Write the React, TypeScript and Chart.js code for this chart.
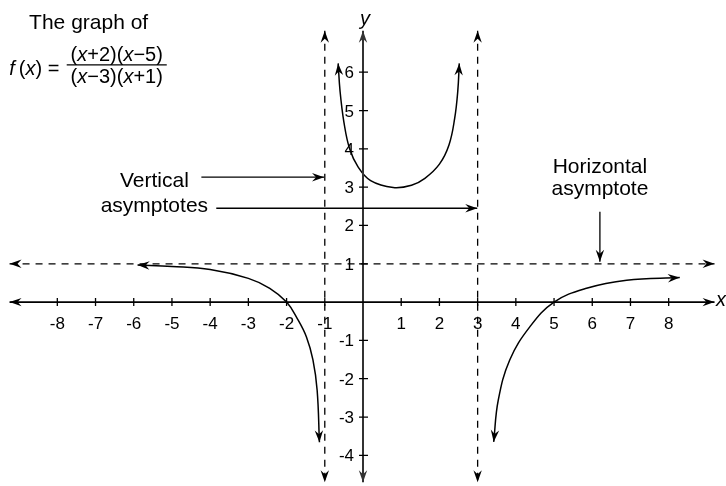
import { useEffect, useRef } from "react";
import { Chart, registerables } from "chart.js";

Chart.register(...registerables);

// ---- data ----
const X_TICKS = [-8, -7, -6, -5, -4, -3, -2, -1, 1, 2, 3, 4, 5, 6, 7, 8];
const X_TICK_LABELS = ["-8", "-7", "-6", "-5", "-4", "-3", "-2", "-1", "1", "2", "3", "4", "5", "6", "7", "8"];
const Y_TICKS = [-4, -3, -2, -1, 1, 2, 3, 4, 5, 6];
const Y_TICK_LABELS = ["-4", "-3", "-2", "-1", "1", "2", "3", "4", "5", "6"];

const X_AXIS_EXTENT = [-9.25, 9.2];
const Y_AXIS_EXTENT = [-4.7, 7.08];
const VERTICAL_ASYMPTOTES = [-1, 3];
const HORIZONTAL_ASYMPTOTE = 1;

const LEFT_X = [-5.9, -5, -4, -3, -2.44, -2, -1.72, -1.48, -1.31, -1.2, -1.14];
const LEFT_Y = [0.97, 0.93, 0.85, 0.62, 0.36, 0, -0.43, -0.91, -1.51, -2.3, -3.66];

const MID_X = [-0.65, -0.6, -0.5, -0.35, -0.13, 0.2, 0.79, 1.27, 1.62, 2.0, 2.25, 2.4, 2.48, 2.52];
const MID_Y = [6.23, 5.5, 4.7, 4.0, 3.53, 3.17, 2.99, 3.05, 3.23, 3.6, 4.1, 4.8, 5.5, 6.23];

const RIGHT_X = [3.42, 3.54, 3.84, 4.37, 5, 5.85, 6.9, 8.29];
const RIGHT_Y = [-3.65, -2.56, -1.51, -0.64, 0, 0.36, 0.57, 0.64];

const FONT = '"Liberation Sans", Arial, Helvetica, sans-serif';

type Run = [string, boolean];

const toPts = (xs: number[], ys: number[]) => xs.map((x, i) => ({ x, y: ys[i] }));

function drawHead(ctx: CanvasRenderingContext2D, tx: number, ty: number, fx: number, fy: number, L = 12, W = 4.2, notch = 4) {
  const a = Math.atan2(ty - fy, tx - fx);
  ctx.save();
  ctx.translate(tx, ty);
  ctx.rotate(a);
  ctx.beginPath();
  ctx.moveTo(0, 0);
  ctx.lineTo(-L, -W);
  ctx.lineTo(-L + notch, 0);
  ctx.lineTo(-L, W);
  ctx.closePath();
  ctx.fill();
  ctx.restore();
}

function drawRuns(ctx: CanvasRenderingContext2D, runs: Run[], x: number, y: number, size: number, align: "center" | "right" | "left") {
  const fontOf = (it: boolean) => `${it ? "italic " : ""}${size}px ${FONT}`;
  let total = 0;
  const widths = runs.map(([t, it]) => {
    ctx.font = fontOf(it);
    const w = ctx.measureText(t).width;
    total += w;
    return w;
  });
  let cx = align === "center" ? x - total / 2 : align === "right" ? x - total : x;
  ctx.textAlign = "left";
  runs.forEach(([t, it], i) => {
    ctx.font = fontOf(it);
    ctx.fillText(t, cx, y);
    cx += widths[i];
  });
  return total;
}

const TEXTS = [
  { text: "The graph of", x: -7.18, y: 7.13 },
  { text: "Vertical", x: -5.46, y: 2.995 },
  { text: "asymptotes", x: -5.46, y: 2.342 },
  { text: "Horizontal", x: 6.2, y: 3.376 },
  { text: "asymptote", x: 6.2, y: 2.794 },
];

const CALLOUTS = [
  { from: [-4.23, 3.26], to: [-1.02, 3.26] },
  { from: [-3.84, 2.45], to: [2.99, 2.45] },
  { from: [6.2, 2.36], to: [6.2, 1.05] },
];

const overlay = {
  id: "overlay",
  afterDatasetsDraw(chart: any) {
    const ctx: CanvasRenderingContext2D = chart.ctx;
    const xs = chart.scales.x;
    const ys = chart.scales.y;
    const px = (v: number) => xs.getPixelForValue(v);
    const py = (v: number) => ys.getPixelForValue(v);
    ctx.save();
    ctx.fillStyle = "#000";
    ctx.strokeStyle = "#000";

    // tick marks
    ctx.lineWidth = 1.3;
    ctx.beginPath();
    X_TICKS.forEach((t) => {
      ctx.moveTo(px(t), py(0) - 4);
      ctx.lineTo(px(t), py(0) + 4);
    });
    Y_TICKS.forEach((t) => {
      ctx.moveTo(px(0) - 4, py(t));
      ctx.lineTo(px(0) + 5, py(t));
    });
    ctx.stroke();

    // tick labels
    ctx.font = `17px ${FONT}`;
    ctx.textBaseline = "alphabetic";
    ctx.textAlign = "center";
    X_TICKS.forEach((t, i) => ctx.fillText(X_TICK_LABELS[i], px(t), py(0) + 27));
    ctx.textAlign = "right";
    Y_TICKS.forEach((t, i) => ctx.fillText(Y_TICK_LABELS[i], px(0) - 9, py(t) + 6));

    // arrow heads on dataset ends
    chart.data.datasets.forEach((ds: any, i: number) => {
      const pts = chart.getDatasetMeta(i).data;
      const n = pts.length;
      if (!ds.arrows || n < 2) return;
      ctx.fillStyle = ds.borderColor;
      drawHead(ctx, pts[0].x, pts[0].y, pts[1].x, pts[1].y);
      drawHead(ctx, pts[n - 1].x, pts[n - 1].y, pts[n - 2].x, pts[n - 2].y);
    });
    ctx.fillStyle = "#000";

    // callout arrows
    ctx.lineWidth = 1.3;
    CALLOUTS.forEach((c) => {
      const x1 = px(c.from[0]), y1 = py(c.from[1]);
      const x2 = px(c.to[0]), y2 = py(c.to[1]);
      ctx.beginPath();
      ctx.moveTo(x1, y1);
      ctx.lineTo(x2, y2);
      ctx.stroke();
      drawHead(ctx, x2, y2, x1, y1);
    });

    // texts
    ctx.font = `21px ${FONT}`;
    ctx.textAlign = "center";
    TEXTS.forEach((t) => ctx.fillText(t.text, px(t.x), py(t.y)));

    // formula
    const fracL = px(-7.754), fracR = px(-5.136);
    const fc = (fracL + fracR) / 2;
    drawRuns(ctx, [["(", false], ["x", true], ["+2)(", false], ["x", true], ["\u22125)", false]], fc, py(6.28), 20, "center");
    drawRuns(ctx, [["(", false], ["x", true], ["\u22123)(", false], ["x", true], ["+1)", false]], fc, py(5.72), 20, "center");
    ctx.lineWidth = 1.3;
    ctx.beginPath();
    ctx.moveTo(fracL, py(6.19));
    ctx.lineTo(fracR, py(6.19));
    ctx.stroke();
    drawRuns(ctx, [["f", true], ["\u2009(", false], ["x", true], [") = ", false]], px(-7.8), py(5.93), 20, "right");

    // axis names
    drawRuns(ctx, [["y", true]], px(0.05), py(7.24), 20, "center");
    drawRuns(ctx, [["x", true]], px(9.24), py(-0.1), 20, "left");

    ctx.restore();
  },
};

export default function App() {
  const ref = useRef<HTMLCanvasElement>(null);
  useEffect(() => {
    const curve = (xs: number[], ys: number[]) => ({
      data: toPts(xs, ys),
      showLine: true,
      borderColor: "#000",
      borderWidth: 1.5,
      pointRadius: 0,
      tension: 0.4,
      arrows: true,
    });
    const datasets: any[] = [
      {
        data: [{ x: X_AXIS_EXTENT[0], y: HORIZONTAL_ASYMPTOTE }, { x: X_AXIS_EXTENT[1], y: HORIZONTAL_ASYMPTOTE }],
        showLine: true, borderColor: "#000", borderWidth: 1.3, borderDash: [7, 6], pointRadius: 0, arrows: true,
      },
      ...VERTICAL_ASYMPTOTES.map((v) => ({
        data: [{ x: v, y: Y_AXIS_EXTENT[1] }, { x: v, y: Y_AXIS_EXTENT[0] }],
        showLine: true, borderColor: "#000", borderWidth: 1.3, borderDash: [7, 6], pointRadius: 0, arrows: true,
      })),
      {
        data: [{ x: X_AXIS_EXTENT[0], y: 0 }, { x: X_AXIS_EXTENT[1], y: 0 }],
        showLine: true, borderColor: "#000", borderWidth: 1.6, pointRadius: 0, arrows: true,
      },
      {
        data: [{ x: 0, y: Y_AXIS_EXTENT[1] }, { x: 0, y: Y_AXIS_EXTENT[0] }],
        showLine: true, borderColor: "#333", borderWidth: 2, pointRadius: 0, arrows: true,
      },
      curve(LEFT_X, LEFT_Y),
      curve(MID_X, MID_Y),
      curve(RIGHT_X, RIGHT_Y),
    ];
    const chart = new Chart(ref.current!, {
      type: "scatter",
      data: { datasets },
      options: {
        animation: false,
        responsive: false,
        maintainAspectRatio: false,
        events: [],
        layout: { padding: 0 },
        plugins: { legend: { display: false }, tooltip: { enabled: false } },
        scales: {
          x: { type: "linear", min: -9.5, max: 9.5, display: false },
          y: { type: "linear", min: -4.8, max: 7.885, display: false },
        },
      },
      plugins: [overlay],
    } as any);
    return () => chart.destroy();
  }, []);
  return (
    <div style={{ position: "fixed", left: 0, top: 0, width: 726, height: 486, background: "#fff" }}>
      <canvas ref={ref} width={726} height={486} style={{ display: "block" }} />
    </div>
  );
}
